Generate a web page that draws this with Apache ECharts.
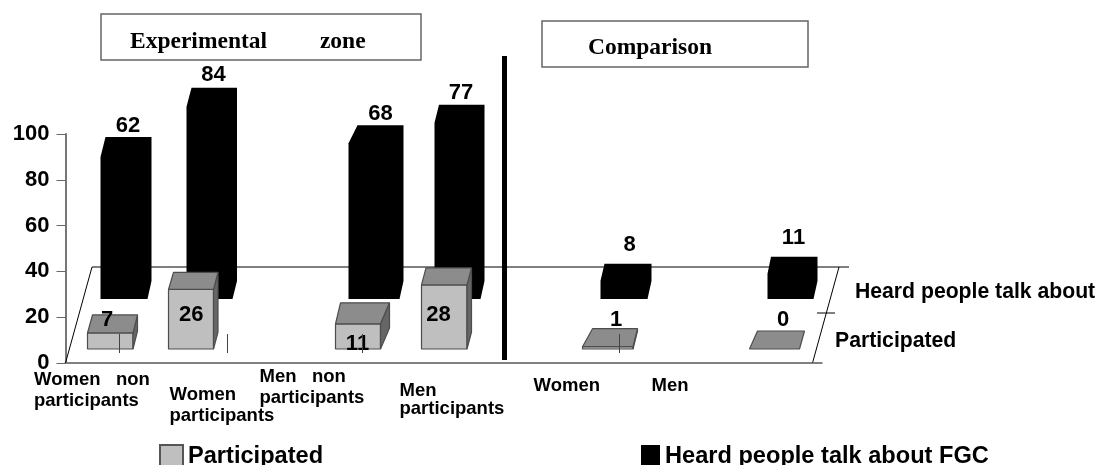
<!DOCTYPE html>
<html>
<head>
<meta charset="utf-8">
<style>html,body{margin:0;padding:0;background:#fff}#chart{width:1100px;height:465px}</style>
<script src="https://cdn.jsdelivr.net/npm/echarts@6/dist/echarts.min.js"></script>
</head>
<body>
<div id="chart"></div>
<script>
// Knowledge of and participation in FGC, by zone and group.
const categories = ['Women   non\nparticipants', 'Women\nparticipants', '', 'Men   non\nparticipants', 'Men\nparticipants', '', 'Women', '', 'Men'];
const participated = [7, 26, null, 11, 28, null, 1, null, 0];
const heard = [62, 84, null, 68, 77, null, 8, null, 11];
const yTicks = { min: 0, max: 100, interval: 20 };
const rowNames = ['Participated', 'Heard people talk about FGC'];

// Projection of each box, keyed by category slot: left edge from the slot centre,
// front width, top-face shear on either side, rise of the depth edge, value label offset.
const frontRowShape = {
  0: { left: -19.5, w: 45.5, dxL: 5, dxR: 4.5, dy: 18, lx: 0.2, ly: -31, tick: 12.5 },
  1: { left: -21.5, w: 45, dxL: 5, dxR: 4.5, dy: 17, lx: 1.2, ly: -36, tick: 37.5 },
  3: { left: -20.5, w: 45, dxL: 5, dxR: 9, dy: 21, lx: 1.5, ly: -7, tick: 6.5 },
  4: { left: -17.5, w: 45.5, dxL: 4.5, dxR: 4.5, dy: 17, lx: -0.5, ly: -36 },
  6: { left: -22.5, w: 50.5, dxL: 10, dxR: 4.5, dy: 18, lx: 11, ly: -31, tick: 14.5 },
  8: { left: -21.5, w: 50, dxL: 8, dxR: 5, dy: 18, lx: 12, ly: -31 }
};
const backRowShape = {
  0: { left: -6.5, w: 47, dxL: 5, dxR: 4, dy: 20, lx: 21, ly: 13 },
  1: { left: -3.5, w: 46, dxL: 5, dxR: 4.5, dy: 19, lx: 23.5, ly: 14 },
  3: { left: -7.5, w: 51, dxL: 9, dxR: 4, dy: 18, lx: 24.5, ly: 13 },
  4: { left: -4.5, w: 46, dxL: 4.5, dxR: 4, dy: 18, lx: 22, ly: 13 },
  6: { left: -4.5, w: 47, dxL: 4, dxR: 4, dy: 17, lx: 24.5, ly: 20 },
  8: { left: -3.5, w: 46, dxL: 3.5, dxR: 4, dy: 17, lx: 22.5, ly: 20 }
};
// Left edge from the slot centre, first-line offset below the axis, line spacing.
const slotLabelShape = {
  0: { dx: -73, dy: 17, lh: 21 },
  1: { dx: -20.5, dy: 32, lh: 20.5 },
  3: { dx: -96.5, dy: 14, lh: 21 },
  4: { dx: -39.5, dy: 28, lh: 17.5 },
  6: { dx: -71.5, dy: 23, lh: 21 },
  8: { dx: -119.5, dy: 23, lh: 21 }
};

const SANS = '"Liberation Sans", Arial, sans-serif';
const SERIF = '"Liberation Serif", "Times New Roman", serif';
const FRONT_LIFT = 14;   // front row stands this far above the floor's front edge
const BACK_LIFT = 64;    // back row stands this far above it
const FLOOR_DEPTH = 96, FLOOR_SHEAR = 26.5;

function toItems(values) {
  return values.map((v, i) => [i, v]).filter(d => d[1] !== null);
}
function valueLabel(x, y, text) {
  return { type: 'text', style: { x, y: y + 1.5, text: String(text), align: 'center', verticalAlign: 'middle',
    font: 'bold 22px ' + SANS, fill: '#000' } };
}

function renderFrontBox(params, api) {
  const slot = api.value(0), val = api.value(1), s = frontRowShape[slot];
  const top = api.coord([slot, val]), zero = api.coord([slot, 0]);
  const xl = top[0] + s.left, xr = xl + s.w;
  const yb = zero[1] - FRONT_LIFT, yt = top[1] - FRONT_LIFT;
  const edge = { stroke: '#4d4d4d', lineWidth: 1.2, lineJoin: 'bevel' };
  const children = [];
  if (val > 0) {
    children.push({ type: 'rect', shape: { x: xl, y: yt, width: s.w, height: yb - yt },
      style: Object.assign({ fill: '#bfbfbf' }, edge) });
    children.push({ type: 'polygon', shape: { points: [[xr, yb], [xr + s.dxR, yb - s.dy], [xr + s.dxR, yt - s.dy], [xr, yt]] },
      style: Object.assign({ fill: '#666666' }, edge) });
  }
  children.push({ type: 'polygon', shape: { points: [[xl, yt], [xr, yt], [xr + s.dxR, yt - s.dy], [xl + s.dxL, yt - s.dy]] },
    style: Object.assign({ fill: '#8c8c8c' }, edge) });
  children.push(valueLabel(top[0] + s.lx, yb + s.ly, val));
  if (s.tick !== undefined) {
    children.push({ type: 'line', shape: { x1: top[0] + s.tick, y1: yb - 15, x2: top[0] + s.tick, y2: yb + 4 },
      style: { stroke: '#444', lineWidth: 1 } });
  }
  return { type: 'group', children };
}

function renderBackBox(params, api) {
  const slot = api.value(0), val = api.value(1), s = backRowShape[slot];
  const top = api.coord([slot, val]), zero = api.coord([slot, 0]);
  const xl = top[0] + s.left, xr = xl + s.w;
  const yb = zero[1] - BACK_LIFT, yt = top[1] - BACK_LIFT;
  return { type: 'group', children: [
    { type: 'polygon', shape: { points: [[xl, yb], [xr, yb], [xr + s.dxR, yb - 18], [xr + s.dxR, yt - s.dy], [xl + s.dxL, yt - s.dy], [xl, yt]] },
      style: { fill: '#000' } },
    valueLabel(top[0] + s.lx, yt - s.dy - s.ly, val)
  ] };
}

function renderSlotLabel(params, api) {
  const slot = api.value(0), s = slotLabelShape[slot], p = api.coord([slot, 0]);
  return { type: 'text', style: { x: p[0] + s.dx, y: p[1] + s.dy - s.lh / 2, text: categories[slot],
    lineHeight: s.lh, align: 'left', verticalAlign: 'top', font: 'bold 18.5px ' + SANS, fill: '#000' } };
}

// Sheared floor behind the boxes, with the depth-axis tick on its right edge.
function renderFloor(params, api) {
  const g = params.coordSys, xa = g.x, xb = g.x + g.width, yf = g.y + g.height, yk = yf - FLOOR_DEPTH;
  const ink = { stroke: '#000', lineWidth: 1 };
  const seg = (x1, y1, x2, y2, style) => ({ type: 'line', shape: { x1, y1, x2, y2 }, style: style || ink });
  return { type: 'group', children: [
    seg(xa, yf, xa + FLOOR_SHEAR, yk),
    seg(xa + FLOOR_SHEAR, yk, xb + FLOOR_SHEAR + 10, yk),
    seg(xb, yf, xb + FLOOR_SHEAR, yk),
    seg(xb + 4.5, yf - 50, xb + 22.5, yf - 50),
    seg(xb, yf, xb + 10, yf, { stroke: '#808080', lineWidth: 2 })
  ] };
}

const legendText = { fontFamily: SANS, fontWeight: 'bold', fontSize: 23.6, color: '#000' };
const chart = echarts.init(document.getElementById('chart'), null, { renderer: 'canvas' });
chart.setOption({
  animation: false,
  backgroundColor: '#fff',
  grid: { left: 65.5, width: 747, top: 134, height: 229 },
  xAxis: { type: 'category', data: categories, boundaryGap: true,
    axisLine: { lineStyle: { color: '#808080', width: 2 } }, axisTick: { show: false }, axisLabel: { show: false }, splitLine: { show: false } },
  yAxis: { type: 'value', min: yTicks.min, max: yTicks.max, interval: yTicks.interval,
    axisLine: { show: true, lineStyle: { color: '#777', width: 2 } },
    axisTick: { show: true, length: 9, lineStyle: { color: '#666', width: 1 } },
    axisLabel: { margin: 16, padding: [4, 0, 0, 0], fontFamily: SANS, fontWeight: 'bold', fontSize: 22, color: '#000' },
    splitLine: { show: false } },
  legend: [
    { left: 159, top: 444, padding: 0, selectedMode: false, data: [{ name: rowNames[0], icon: 'rect' }],
      itemWidth: 23, itemHeight: 22, textStyle: legendText },
    { left: 641, top: 444, padding: 0, selectedMode: false, data: [{ name: rowNames[1], icon: 'rect' }],
      itemWidth: 19, itemHeight: 22, textStyle: legendText }
  ],
  series: [
    { type: 'custom', z: 1, silent: true, renderItem: renderFloor, data: [[0, 0]], encode: { x: 0, y: 1 } },
    { type: 'custom', z: 2, name: rowNames[1], renderItem: renderBackBox, data: toItems(heard), encode: { x: 0, y: 1 },
      itemStyle: { color: '#000' } },
    { type: 'custom', z: 3, name: rowNames[0], renderItem: renderFrontBox, data: toItems(participated), encode: { x: 0, y: 1 },
      itemStyle: { color: '#bfbfbf', borderColor: '#555', borderWidth: 1 } },
    { type: 'custom', z: 4, silent: true, renderItem: renderSlotLabel, data: toItems(participated), encode: { x: 0, y: 1 } }
  ],
  graphic: { elements: [
    { type: 'rect', z: 5, shape: { x: 101, y: 14, width: 320, height: 46 }, style: { fill: '#fff', stroke: '#666', lineWidth: 1.5 } },
    { type: 'text', z: 6, style: { x: 130, y: 41.5, text: 'Experimental         zone', font: 'bold 23.5px ' + SERIF, fill: '#000', verticalAlign: 'middle' } },
    { type: 'rect', z: 5, shape: { x: 542, y: 21, width: 266, height: 46 }, style: { fill: '#fff', stroke: '#666', lineWidth: 1.5 } },
    { type: 'text', z: 6, style: { x: 588, y: 47.5, text: 'Comparison', font: 'bold 23.5px ' + SERIF, fill: '#000', verticalAlign: 'middle' } },
    { type: 'rect', z: 5, shape: { x: 502, y: 56, width: 5, height: 304 }, style: { fill: '#000' } },
    { type: 'text', z: 6, style: { x: 855, y: 292, text: 'Heard people talk about', font: 'bold 21.2px ' + SANS, fill: '#000', verticalAlign: 'middle' } },
    { type: 'text', z: 6, style: { x: 835, y: 341, text: 'Participated', font: 'bold 21.2px ' + SANS, fill: '#000', verticalAlign: 'middle' } }
  ] }
});
</script>
</body>
</html>
